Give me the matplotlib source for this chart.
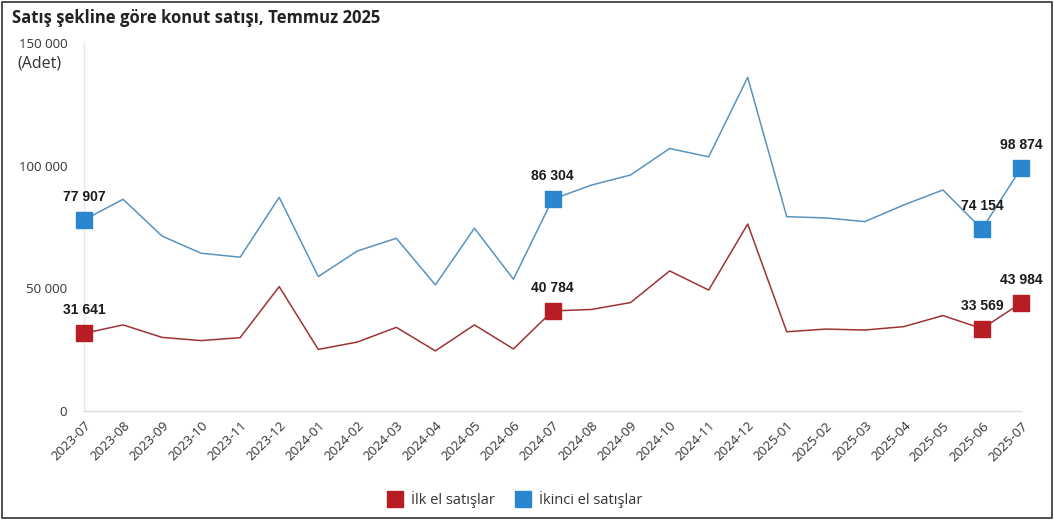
import matplotlib
matplotlib.use("Agg")
import matplotlib.pyplot as plt
from matplotlib.lines import Line2D
from matplotlib.patches import Rectangle

months = ["2023-07", "2023-08", "2023-09", "2023-10", "2023-11", "2023-12",
          "2024-01", "2024-02", "2024-03", "2024-04", "2024-05", "2024-06",
          "2024-07", "2024-08", "2024-09", "2024-10", "2024-11", "2024-12",
          "2025-01", "2025-02", "2025-03", "2025-04", "2025-05", "2025-06",
          "2025-07"]

ilk_el = [31641, 35100, 30000, 28700, 29900, 50700, 25100, 28100, 34100, 24500,
          35100, 25300, 40784, 41400, 44200, 57100, 49300, 76200, 32300, 33400,
          33000, 34400, 38900, 33569, 43984]

ikinci_el = [77907, 86300, 71300, 64300, 62700, 87100, 54800, 65200, 70400, 51400,
             74500, 53700, 86304, 92100, 96200, 107000, 103600, 136000, 79200, 78700,
             77200, 84000, 90100, 74154, 98874]

highlight_idx = [0, 12, 23, 24]
y_ticks = [0, 50000, 100000, 150000]

RED_LINE = "#9c3434"
BLUE_LINE = "#5a93bd"
RED_MARK = "#b81d24"
BLUE_MARK = "#2a86cf"


def fmt(v):
    return f"{v:,}".replace(",", " ")


fig = plt.figure(figsize=(10.54, 5.2), dpi=100)
ax = fig.add_axes([84 / 1054, 1 - 411 / 520, (1021 - 84) / 1054, (411 - 43) / 520])

x = list(range(len(months)))
ax.plot(x, ikinci_el, color=BLUE_LINE, lw=1.1, zorder=2)
ax.plot(x, ilk_el, color=RED_LINE, lw=1.1, zorder=2)

for series, col in ((ikinci_el, BLUE_MARK), (ilk_el, RED_MARK)):
    hx = [x[i] for i in highlight_idx]
    hy = [series[i] for i in highlight_idx]
    ax.plot(hx, hy, ls="none", marker="s", ms=11.5, color=col, mec=col,
            clip_on=False, zorder=3)
    for i in highlight_idx:
        ax.annotate(fmt(series[i]), (x[i], series[i]), xytext=(0, 11.5),
                    textcoords="offset points", ha="center", va="bottom",
                    fontsize=10, fontweight="bold", family="Liberation Sans",
                    color="#1a1a1a", zorder=4)

ax.set_xlim(0, len(months) - 1)
ax.set_ylim(0, 150000)
ax.set_xticks(x)
ax.set_xticklabels(months, rotation=45, ha="right", rotation_mode="anchor",
                   fontsize=9.5, family="Open Sans", color="#333333")
ax.set_yticks(y_ticks)
ax.set_yticklabels([fmt(v) for v in y_ticks], fontsize=9.5, family="Open Sans",
                   color="#333333")
ax.tick_params(axis="both", length=0)
ax.tick_params(axis="x", pad=6)
ax.tick_params(axis="y", pad=12)

for side in ("top", "right"):
    ax.spines[side].set_visible(False)
ax.spines["left"].set_color("#e6e6e6")
ax.spines["bottom"].set_color("#dcdcdc")
ax.spines["left"].set_linewidth(1.0)
ax.spines["bottom"].set_linewidth(1.0)

fig.text(12 / 1054, 1 - 18 / 520, "Satış şekline göre konut satışı, Temmuz 2025",
         fontsize=12, fontweight="bold", family="Open Sans", color="#222222",
         va="center", ha="left")
fig.text(17 / 1054, 1 - 64 / 520, "(Adet)", fontsize=11.5, family="Open Sans",
         color="#333333", va="center", ha="left")

handles = [
    Line2D([], [], ls="none", marker="s", ms=11, color=RED_MARK, label="İlk el satışlar"),
    Line2D([], [], ls="none", marker="s", ms=11, color=BLUE_MARK, label="İkinci el satışlar"),
]
leg = fig.legend(handles=handles, loc="center", bbox_to_anchor=(514 / 1054, 1 - 500 / 520),
                 ncol=2, frameon=False, handletextpad=0.45, columnspacing=1.3,
                 handlelength=1.3, prop={"family": "Open Sans", "size": 10.5})
for t in leg.get_texts():
    t.set_color("#333333")

fig.patches.append(Rectangle((0.002, 0.003), 0.996, 0.994, transform=fig.transFigure,
                             fill=False, ec="#333333", lw=1.2))

fig.savefig("out.png", dpi=100, facecolor="white")
